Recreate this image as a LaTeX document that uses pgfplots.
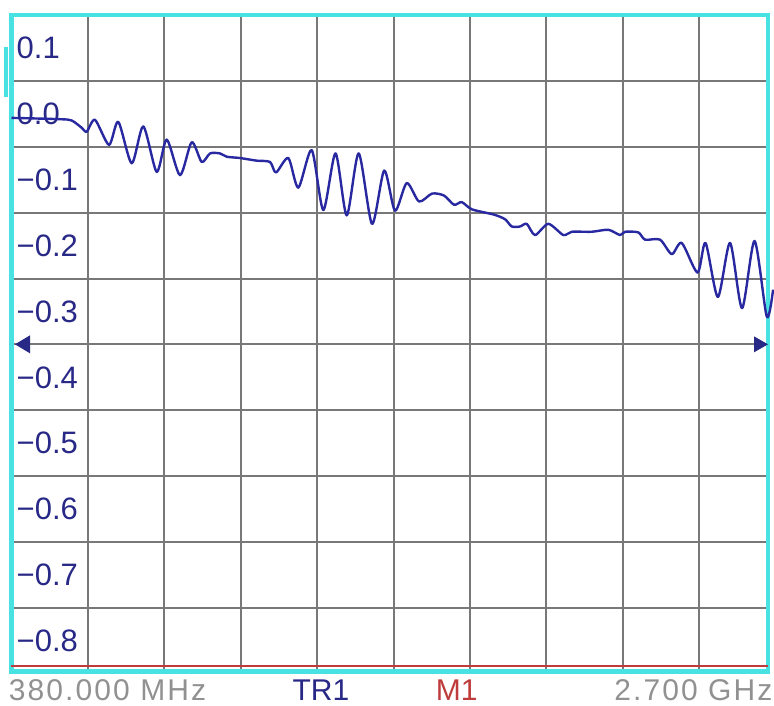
\documentclass[border=0pt]{standalone}
\usepackage{fontspec}
\setmainfont{Liberation Sans}
\newfontfamily\spacedfont[LetterSpace=7]{Liberation Sans}
\usepackage{pgfplots}
\pgfplotsset{compat=1.18}

\definecolor{framecyan}{RGB}{72,226,226}
\definecolor{gridgray}{RGB}{120,120,120}
\definecolor{tracblue}{RGB}{40,40,160}
\definecolor{tickblue}{RGB}{40,40,135}
\definecolor{labelgray}{RGB}{145,145,145}
\definecolor{limitred}{RGB}{190,60,60}

\begin{document}
\begin{tikzpicture}
\begin{axis}[
  name=ax,
  scale only axis,
  width=756.5pt, height=656.3pt,
  xmin=380, xmax=2677,
  ymin=-0.897, ymax=0.1,
  xtick={612,844,1076,1308,1540,1772,2004,2236,2468},
  xticklabels={},
  ytick={-0.8,-0.7,-0.6,-0.5,-0.4,-0.3,-0.2,-0.1,0,0.1},
  yticklabels={−0.8,−0.7,−0.6,−0.5,−0.4,−0.3,−0.2,−0.1,0.0,0.1},
  yticklabel style={anchor=west, inner sep=0pt, xshift=5pt, yshift=-33pt,
    text=tickblue, font=\fontsize{31}{31}\selectfont},
  major tick length=0pt,
  grid=major,
  major grid style={draw=gridgray, line width=2pt},
  axis line style={draw=framecyan, line width=4.5pt},
  clip=false,
]
% limit line along the bottom
\addplot[draw=limitred, line width=2.5pt] coordinates {(380,-0.889) (2677,-0.889)};

% TR1 trace, S21 magnitude (dB)
\addplot[draw=tracblue, line width=2.4pt, smooth, tension=0.45, line join=round] coordinates {
(380.0,-0.056) (527.3,-0.058) (562.8,-0.060) (593.2,-0.071) (608.4,-0.077)
(633.6,-0.059) (676.1,-0.097) (704.3,-0.062) (745.0,-0.125) (780.2,-0.069)
(820.9,-0.138) (851.3,-0.089) (891.7,-0.143) (927.2,-0.093) (957.6,-0.123)
(982.8,-0.110) (1013.1,-0.110) (1033.5,-0.115) (1073.9,-0.117) (1124.6,-0.121)
(1165.0,-0.123) (1183.2,-0.139) (1220.5,-0.117) (1250.9,-0.162) (1291.6,-0.105)
(1326.8,-0.196) (1363.9,-0.110) (1397.9,-0.204) (1434.3,-0.110) (1474.7,-0.217)
(1511.7,-0.136) (1544.5,-0.197) (1580.1,-0.155) (1617.4,-0.183) (1656.9,-0.171)
(1693.3,-0.174) (1723.7,-0.188) (1747.1,-0.184) (1778.4,-0.195) (1845.2,-0.203)
(1878.6,-0.210) (1898.9,-0.221) (1924.1,-0.221) (1944.5,-0.217) (1969.7,-0.234)
(2010.0,-0.217) (2055.6,-0.234) (2081.1,-0.229) (2141.8,-0.229) (2192.3,-0.226)
(2227.8,-0.234) (2242.9,-0.229) (2283.3,-0.230) (2303.7,-0.241) (2349.2,-0.241)
(2384.8,-0.263) (2415.1,-0.246) (2463.1,-0.291) (2487.4,-0.246) (2524.8,-0.328)
(2561.8,-0.246) (2598.2,-0.345) (2636.2,-0.243) (2673.3,-0.358) (2692.4,-0.317)
};

% reference position markers
\fill[tickblue] ([xshift=3.5pt]axis cs:380,-0.4) -- ([shift={(18.5pt,9pt)}]axis cs:380,-0.4)
  -- ([shift={(18.5pt,-9pt)}]axis cs:380,-0.4) -- cycle;
\fill[tickblue] (axis cs:2677,-0.4) -- ([shift={(-14pt,8pt)}]axis cs:2677,-0.4)
  -- ([shift={(-14pt,-8pt)}]axis cs:2677,-0.4) -- cycle;
% active trace tab
\fill[framecyan] ([xshift=-7.5pt]axis cs:380,0.052) rectangle ([xshift=-3.2pt]axis cs:380,-0.024);

% footer annotations
\node[anchor=base west, inner sep=0pt, text=labelgray, font=\spacedfont\fontsize{30}{30}\selectfont]
  at ([xshift=-2.8pt,yshift=-29pt]rel axis cs:0,0) {380.000 MHz};
\node[anchor=base west, inner sep=0pt, text=tickblue, font=\fontsize{30}{30}\selectfont]
  at ([xshift=280.9pt,yshift=-29pt]rel axis cs:0,0) {TR1};
\node[anchor=base west, inner sep=0pt, text=limitred, font=\fontsize{30}{30}\selectfont]
  at ([xshift=424.2pt,yshift=-29pt]rel axis cs:0,0) {M1};
\node[anchor=base east, inner sep=0pt, text=labelgray, font=\spacedfont\fontsize{30}{30}\selectfont]
  at ([xshift=4.6pt,yshift=-29pt]rel axis cs:1,0) {2.700 GHz};
\end{axis}
\pgfresetboundingbox
\path[use as bounding box] ([shift={(-11.5pt,-34.5pt)}]ax.south west) rectangle ++(774pt,706pt);
\end{tikzpicture}
\end{document}
